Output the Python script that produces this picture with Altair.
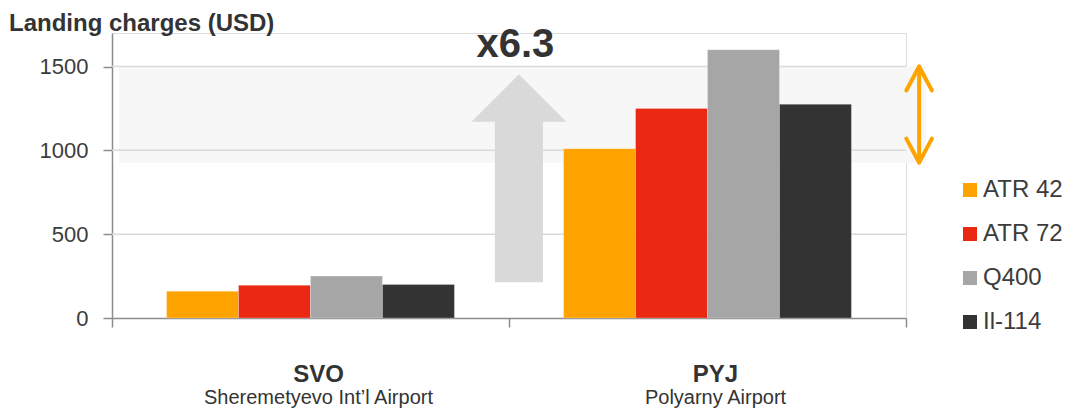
import altair as alt
import pandas as pd

# ---------------- data ----------------
airports = ["SVO", "PYJ"]
airport_names = ["Sheremetyevo Int\u2019l Airport", "Polyarny Airport"]
aircraft = ["ATR 42", "ATR 72", "Q400", "Il-114"]
colors = ["#FFA300", "#EB2812", "#A6A6A6", "#333333"]
svo_values = [160, 195, 250, 200]
pyj_values = [1010, 1250, 1600, 1275]

y_ticks = [0, 500, 1000, 1500]
y_max = 1700
chart_title = ["Landing charges (USD)"]

# annotation values (x measured in airport-band units: 0..2, y in USD)
shade_x = [0.018, 2.05]
shade_y = [925, 1500]
gray_arrow_x = [1.025]
gray_arrow_y = [833]
ratio_label = ["x6.3"]
ratio_x = [1.016]
ratio_y = [1554]
range_x = [2.033]
range_y = [927, 1500]

# ---------------- tables ----------------
bars = pd.DataFrame(
    [{"airport": a, "aircraft": k, "value": v}
     for a, vals in zip(airports, [svo_values, pyj_values])
     for k, v in zip(aircraft, vals)]
)
labels = pd.DataFrame({"airport": airports, "name": airport_names})
shade = pd.DataFrame({"x0": [shade_x[0]], "x1": [shade_x[1]],
                      "y0": [shade_y[0]], "y1": [shade_y[1]]})
grid = pd.DataFrame({"y": y_ticks[1:], "x0": [0] * 3, "x1": [2] * 3})
axis_ticks = pd.DataFrame({"x": [0, 1, 2], "y": [0, 0, 0]})
gray_arrow = pd.DataFrame({"x": gray_arrow_x, "y": gray_arrow_y})
ratio = pd.DataFrame({"x": ratio_x, "y": ratio_y, "t": ratio_label})
range_line = pd.DataFrame({"x": range_x, "y0": [range_y[0]], "y1": [range_y[1]]})
range_top = pd.DataFrame({"x": range_x, "y": [range_y[1]]})
range_bot = pd.DataFrame({"x": range_x, "y": [range_y[0]]})
title_df = pd.DataFrame({"t": chart_title})

FONT = "Liberation Sans"
W, H = 794, 285

xq = alt.Scale(domain=[0, 2], nice=False, zero=False)
ys = alt.Scale(domain=[0, y_max], nice=False, zero=True)
yaxis = alt.Axis(values=y_ticks, format="d", grid=False, title=None,
                 domainColor="#8c8c8c", domainWidth=1.5, tickColor="#8c8c8c",
                 tickWidth=1.5, tickSize=9, labelFontSize=22, labelColor="#3c3c3c",
                 labelPadding=15, labelFont=FONT)


def Y(field, **kw):
    return alt.Y(field, type="quantitative", scale=ys, axis=yaxis, title=None, **kw)


def XQ(field, axis=None):
    return alt.X(field, type="quantitative", scale=xq, axis=axis, title=None)


band_scale = alt.Scale(paddingInner=0.275, paddingOuter=0.1375)

shade_layer = alt.Chart(shade).mark_rect(color="#f7f7f7").encode(
    x=XQ("x0"), x2="x1", y=Y("y0"), y2="y1")

grid_layer = alt.Chart(grid).mark_rule(color="#dadada", strokeWidth=1.5).encode(
    x=XQ("x0"), x2="x1", y=Y("y"))

xaxis_layer = alt.Chart(axis_ticks).mark_point(opacity=0).encode(
    x=XQ("x", axis=alt.Axis(orient="bottom", values=[0, 1, 2], labels=False,
                            grid=False, domainColor="#8c8c8c", domainWidth=1.5,
                            tickColor="#8c8c8c", tickWidth=1.5, tickSize=9,
                            title=None)),
    y=Y("y"))

bar_layer = alt.Chart(bars).mark_bar(stroke="white", strokeOpacity=0.25,
                                     strokeWidth=1).encode(
    x=alt.X("airport:N", sort=airports, axis=None, title=None, scale=band_scale),
    xOffset=alt.XOffset("aircraft:N", sort=aircraft,
                        scale=alt.Scale(paddingInner=0, paddingOuter=0)),
    y=Y("value"),
    color=alt.Color("aircraft:N", sort=aircraft,
                    scale=alt.Scale(domain=aircraft, range=colors),
                    legend=alt.Legend(title=None, orient="none", legendX=846, legendY=145,
                                      symbolType="square", symbolSize=196,
                                      symbolStrokeWidth=0, labelFontSize=24,
                                      labelColor="#3c3c3c", labelFont=FONT,
                                      rowPadding=20, labelOffset=1, padding=0)),
)

code_layer = alt.Chart(labels).mark_text(
    font=FONT, fontSize=24, fontWeight="bold", color="#333333",
    baseline="alphabetic", dx=8).encode(
    x=alt.X("airport:N", sort=airports, axis=None, scale=band_scale),
    y=alt.value(349), text="airport:N")

name_layer = alt.Chart(labels).mark_text(
    font=FONT, fontSize=20, color="#333333", baseline="alphabetic", dx=8).encode(
    x=alt.X("airport:N", sort=airports, axis=None, scale=band_scale),
    y=alt.value(371), text="name:N")

title_layer = alt.Chart(title_df).mark_text(
    font=FONT, fontSize=24, fontWeight="bold", color="#333333",
    baseline="alphabetic", align="left").encode(
    x=alt.value(-103), y=alt.value(-2), text="t:N")

arrow_path = ("M 0 -1 L 0.457 -0.544 L 0.231 -0.544 L 0.231 1 "
              "L -0.231 1 L -0.231 -0.544 L -0.457 -0.544 Z")
gray_arrow_layer = alt.Chart(gray_arrow).mark_point(
    shape=arrow_path, size=208 * 208, filled=True, color="#d9d9d9",
    opacity=1, strokeWidth=0).encode(x=XQ("x"), y=Y("y"))

ratio_layer = alt.Chart(ratio).mark_text(
    font=FONT, fontSize=40, fontWeight="bold", color="#333333",
    baseline="alphabetic", align="center").encode(x=XQ("x"), y=Y("y"), text="t:N")

orange = "#FFA300"
range_line_layer = alt.Chart(range_line).mark_rule(
    color=orange, strokeWidth=4, strokeCap="round").encode(
    x=XQ("x"), y=Y("y0"), y2="y1")
range_top_layer = alt.Chart(range_top).mark_point(
    shape="M -0.533 1 L 0 0 L 0.533 1", size=48 * 48, filled=False,
    color=orange, strokeWidth=4, strokeCap="round", strokeJoin="round",
    opacity=1).encode(x=XQ("x"), y=Y("y"))
range_bot_layer = alt.Chart(range_bot).mark_point(
    shape="M -0.533 -1 L 0 0 L 0.533 -1", size=48 * 48, filled=False,
    color=orange, strokeWidth=4, strokeCap="round", strokeJoin="round",
    opacity=1).encode(x=XQ("x"), y=Y("y"))

chart = alt.layer(
    shade_layer, grid_layer, xaxis_layer, bar_layer, code_layer, name_layer,
    title_layer, gray_arrow_layer, ratio_layer, range_line_layer, range_top_layer,
    range_bot_layer,
).resolve_scale(x="independent").properties(
    width=W, height=H,
    autosize=alt.AutoSizeParams(type="none"),
    padding={"left": 104, "top": 25, "right": 162, "bottom": 90},
).configure_view(stroke=None).configure(font=FONT)

chart.save("out.html", embed_options={"renderer": "svg", "actions": False})
